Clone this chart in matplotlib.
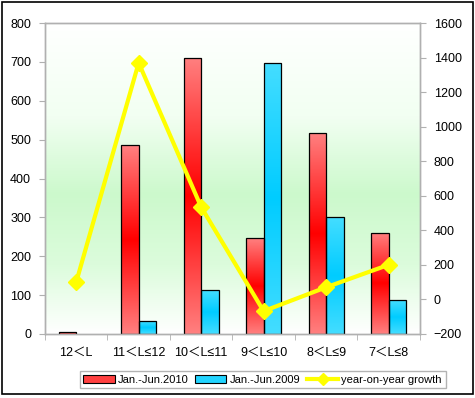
import numpy as np
import matplotlib
matplotlib.use("Agg")
import matplotlib.pyplot as plt
from matplotlib.colors import LinearSegmentedColormap
from matplotlib.patches import Patch
from matplotlib.lines import Line2D

# Chart data
categories = ["12＜L", "11＜L≤12", "10＜L≤11", "9＜L≤10", "8＜L≤9", "7＜L≤8"]
sales_2010 = [5, 485, 711, 246, 516, 261]
sales_2009 = [0, 33, 112, 696, 300, 87]
growth = [100, 1370, 535, -68, 70, 200]

plt.rcParams["font.family"] = ["Liberation Sans", "Noto Sans CJK SC", "DejaVu Sans"]

fig = plt.figure(figsize=(4.75, 3.98), dpi=100)
ax = fig.add_axes([0.0947, 0.161, 0.789, 0.781])
ax2 = ax.twinx()

x = np.arange(len(categories))
w = 0.28

ax.set_xlim(-0.5, len(categories) - 0.5)
ax.set_ylim(0, 800)
ax2.set_ylim(-200, 1600)

# Background gradient: white top, green middle, white bottom
bg = LinearSegmentedColormap.from_list(
    "bg", [(0, "#ffffff"), (0.3, "#f2fff2"), (0.55, "#ccf9cc"), (0.78, "#dcfcdc"), (1, "#ffffff")]
)
grad = np.linspace(0, 1, 256).reshape(-1, 1)
ax.imshow(grad, cmap=bg, aspect="auto", extent=(-0.5, len(categories) - 0.5, 0, 800),
          origin="upper", zorder=0)

red_cm = LinearSegmentedColormap.from_list("r", ["#ff8080", "#ff0000", "#ff8080"])
blue_cm = LinearSegmentedColormap.from_list("b", ["#44ddff", "#00ccff", "#44ddff"])

bars1 = ax.bar(x - w / 2, sales_2010, w, facecolor="none", edgecolor="black", linewidth=0.9, zorder=3)
bars2 = ax.bar(x + w / 2, sales_2009, w, facecolor="none", edgecolor="black", linewidth=0.9, zorder=3)

# Fill each bar with a vertical gradient
for bars, cm in [(bars1, red_cm), (bars2, blue_cm)]:
    for b in bars:
        h = b.get_height()
        if h <= 0:
            b.set_linewidth(0)
            continue
        x0 = b.get_x()
        im = ax.imshow(grad, cmap=cm, aspect="auto",
                       extent=(x0, x0 + b.get_width(), 0, h), zorder=2)
        im.set_clip_path(b)

ax.set_xlim(-0.5, len(categories) - 0.5)
ax.set_ylim(0, 800)

ax2.plot(x, growth, color="#ffff00", linewidth=3, marker="D", markersize=8,
         markeredgecolor="#ffff00", zorder=5)
ax2.patch.set_visible(False)
ax.set_zorder(1)
ax2.set_zorder(2)

# Axes styling
for a in (ax, ax2):
    for s in a.spines.values():
        s.set_color("#b0b0b0")
        s.set_linewidth(1)

ax.set_xticks(np.arange(len(categories) + 1) - 0.5, minor=True)
ax.set_xticks(x)
ax.set_xticklabels(categories, fontsize=9)
ax.tick_params(axis="x", which="major", length=0, pad=9)
ax.tick_params(axis="x", which="minor", length=4, color="#b0b0b0")
ax.set_yticks(range(0, 801, 100))
ax.tick_params(axis="y", length=4, color="#b0b0b0", labelsize=9, pad=6)
ax2.set_yticks(range(-200, 1601, 200))
ax2.tick_params(axis="y", length=4, color="#b0b0b0", labelsize=9, pad=6)

handles = [
    Patch(facecolor="#ff4040", edgecolor="black", linewidth=0.8, label="Jan.-Jun.2010"),
    Patch(facecolor="#22d4ff", edgecolor="black", linewidth=0.8, label="Jan.-Jun.2009"),
    Line2D([0], [0], color="#ffff00", linewidth=3, marker="D", markersize=6, label="year-on-year growth"),
]
leg = fig.legend(handles=handles, loc="lower center", bbox_to_anchor=(0.553, 0.01), ncol=3,
                 fontsize=8, frameon=True, fancybox=False, borderpad=0.35, handlelength=2.8,
                 handletextpad=0.3, columnspacing=0.6)
leg.get_frame().set_edgecolor("#a0a0a0")
leg.get_frame().set_linewidth(1)

# Outer border
fig.patches.append(plt.Rectangle((0.005, 0.01), 0.99, 0.985, transform=fig.transFigure,
                                 fill=False, edgecolor="black", linewidth=1.2))

fig.savefig("out.png", dpi=100)
